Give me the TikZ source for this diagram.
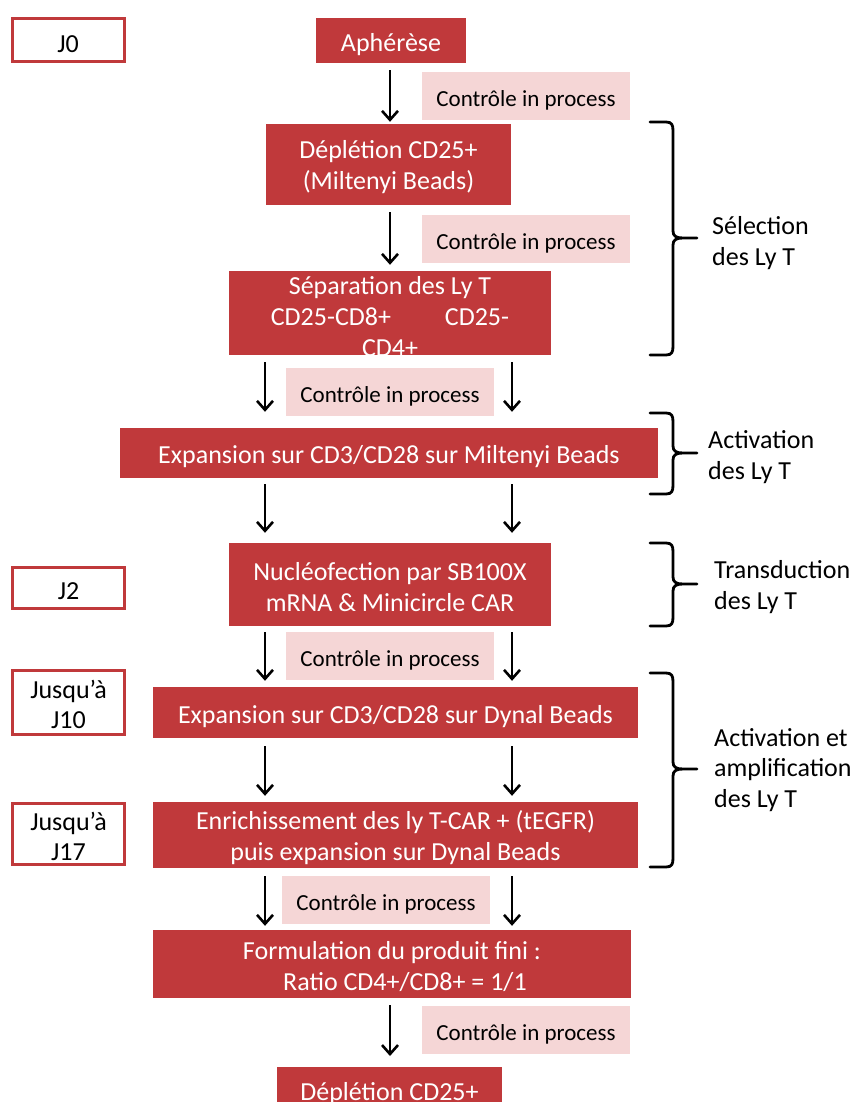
\documentclass[tikz,border=0pt]{standalone}
\usepackage{fontspec}
\setmainfont{Carlito}
\usetikzlibrary{arrows.meta}
\definecolor{boxred}{RGB}{192,57,59}
\definecolor{ctlpink}{RGB}{245,214,214}
\begin{document}
\begin{tikzpicture}[x=1pt,y=-1pt,
  redbox/.style={fill=boxred, inner sep=0pt},
  redtext/.style={text=white, inner sep=0pt, align=center, font=\fontsize{26}{31}\selectfont},
  ctl/.style={fill=ctlpink, inner sep=0pt, minimum width=208, minimum height=48},
  ctltext/.style={inner sep=0pt, font=\fontsize{23}{27}\selectfont},
  daybox/.style={draw=boxred, line width=3pt, fill=white, inner sep=0pt, minimum width=112},
  daytext/.style={inner sep=0pt, align=center, font=\fontsize{26}{30}\selectfont},
  arr/.style={-{Straight Barb[length=9pt,width=16pt]}, line width=2.6pt, shorten <=7pt, shorten >=6pt},
  brace/.style={line width=2.8pt, line join=round, line cap=round},
  side/.style={anchor=west, align=left, inner sep=0pt, font=\fontsize{26}{30.5}\selectfont}
]
\useasboundingbox (0,0) rectangle (857,1102);
\clip (0,0) rectangle (857,1102);

% day boxes
\node[daybox, minimum height=43] (j0) at (68,40) {};
\node[daytext] (j0t) at ([yshift=-4pt]j0.center) {J0};
\node[daybox, minimum height=41] (j2) at (68.5,588) {};
\node[daytext] (j2t) at ([yshift=-3pt]j2.center) {J2};
\node[daybox, minimum height=64] (j10) at (68.5,702.5) {};
\node[daytext] (j10t) at ([yshift=-2pt]j10.center) {Jusqu’à\\J10};
\node[daybox, minimum height=61] (j17) at (68.5,834) {};
\node[daytext] (j17t) at ([yshift=-2pt]j17.center) {Jusqu’à\\J17};

% main red boxes
\node[redbox, minimum width=150, minimum height=45] (aph) at (391,40.5) {};
\node[redtext] (apht) at ([yshift=-4pt]aph.center) {Aphérèse};
\node[redbox, minimum width=245, minimum height=81] (dep1) at (388.5,164.5) {};
\node[redtext] (dep1t) at ([yshift=-3pt]dep1.center) {Déplétion CD25+\\(Miltenyi Beads)};
\node[redbox, minimum width=322, minimum height=84] (sep) at (390,313) {};
\node[redtext] (sept) at (390,317) {Séparation des Ly T\\CD25-CD8+\hspace{54pt}CD25-\\CD4+};
\node[redbox, minimum width=538, minimum height=50] (expm) at (389,453) {};
\node[redtext] (expmt) at ([yshift=-4pt]expm.center) {Expansion sur CD3/CD28 sur Miltenyi Beads};
\node[redbox, minimum width=322, minimum height=83] (nuc) at (390,584.5) {};
\node[redtext] (nuct) at ([yshift=-3pt]nuc.center) {Nucléofection par SB100X\\mRNA \& Minicircle CAR};
\node[redbox, minimum width=485, minimum height=51] (expd) at (395.5,712.5) {};
\node[redtext] (expdt) at ([yshift=-4pt]expd.center) {Expansion sur CD3/CD28 sur Dynal Beads};
\node[redbox, minimum width=485, minimum height=66] (enr) at (395.5,835) {};
\node[redtext] (enrt) at ([yshift=-3pt]enr.center) {Enrichissement des ly T-CAR + (tEGFR)\\puis expansion sur Dynal Beads};
\node[redbox, minimum width=478, minimum height=68] (form) at (392,964) {};
\node[redtext] (formt) at ([yshift=-3pt]form.center) {Formulation du produit fini :\\\hspace{26pt}Ratio CD4+/CD8+ = 1/1};
\node[redbox, minimum width=225, minimum height=70, anchor=north] (dep2) at (389.5,1067) {};
\node[redtext] (dep2t) at (389.5,1094) {Déplétion CD25+};

% control boxes
\foreach \n/\x/\y in {c1/526/96, c2/526/239, c3/390/392, c4/390/655.5, c5/386/900, c6/526/1030}{
  \node[ctl] (\n) at (\x,\y) {};
  \node[ctltext] (\n t) at ([yshift=-4.5pt]\n.center) {Contrôle in process};
}

% arrows
\draw[arr, shorten >=2pt] (aph.south -| 390,0) -- (dep1.north -| 390,0);
\draw[arr] (dep1.south -| 390,0) -- (sep.north -| 390,0);
\foreach \x in {265,512}{
  \draw[arr, shorten >=16pt] (sep.south -| \x,0) -- (expm.north -| \x,0);
  \draw[arr, shorten <=6pt, shorten >=10pt] (expm.south -| \x,0) -- (nuc.north -| \x,0);
  \draw[arr, shorten <=6pt] (nuc.south -| \x,0) -- (expd.north -| \x,0);
  \draw[arr, shorten <=8pt] (expd.south -| \x,0) -- (enr.north -| \x,0);
  \draw[arr, shorten <=8pt, shorten >=4pt] (enr.south -| \x,0) -- (form.north -| \x,0);
}
\draw[arr, shorten >=11pt] (form.south -| 390,0) -- (dep2.north -| 390,0);

% braces
\foreach \t/\m/\b in {122/238/355, 413/453/494, 543/584/626, 673/769/867}{
  \draw[brace] (650,\t) -- (666,\t) .. controls (672,\t) and (673,\t+3) .. (673,\t+9)
    -- (673,\m-7) .. controls (673,\m-2) and (676,\m) .. (683,\m) -- (697,\m)
    (683,\m) .. controls (676,\m) and (673,\m+2) .. (673,\m+7)
    -- (673,\b-9) .. controls (673,\b-3) and (672,\b) .. (666,\b) -- (650,\b);
}
\node[side] (l1) at (712,243) {Sélection\\des Ly T};
\node[side] (l2) at (708,457) {Activation\\des Ly T};
\node[side] (l3) at (714,587) {Transduction\\des Ly T};
\node[side] (l4) at (714,770) {Activation et\\amplification\\des Ly T};
\end{tikzpicture}
\end{document}
